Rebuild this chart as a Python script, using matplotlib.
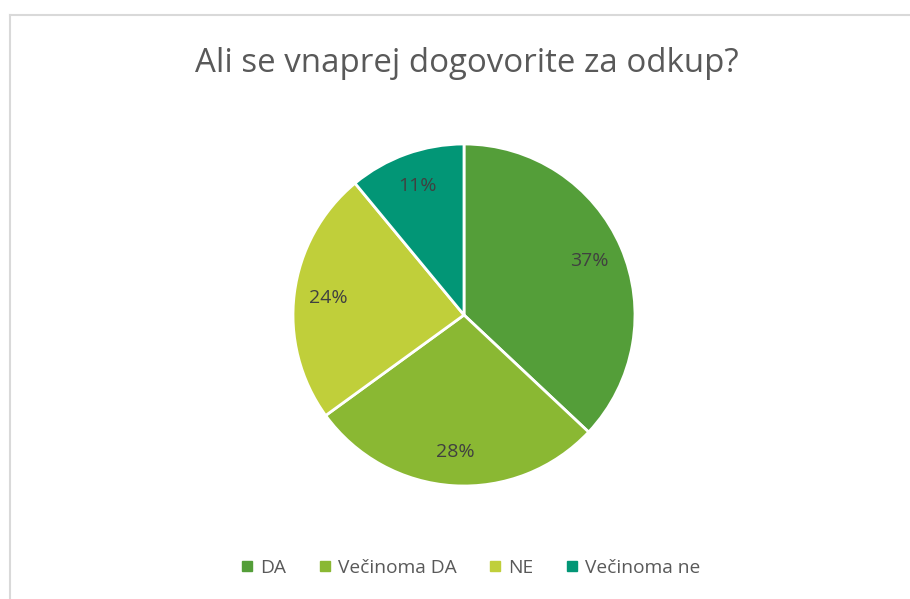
import matplotlib
matplotlib.use("Agg")
import matplotlib.pyplot as plt
from matplotlib.lines import Line2D

labels = ["DA", "Večinoma DA", "NE", "Večinoma ne"]
values = [37, 28, 24, 11]
colors = ["#549E39", "#8AB833", "#C0CF3A", "#029676"]
title = "Ali se vnaprej dogovorite za odkup?"

W, H = 910, 599
fig = plt.figure(figsize=(W/100, H/100), dpi=100)
plt.rcParams['font.family'] = ['Open Sans', 'DejaVu Sans']

# frame lines (left and top only visible)
fig.add_artist(Line2D([10/W, 10/W], [0, 1-15/H], color="#D9D9D9", lw=1.5))
fig.add_artist(Line2D([10/W, 1], [1-15/H, 1-15/H], color="#D9D9D9", lw=1.5))

cx, cy, r = 464, 315, 171
ax = fig.add_axes([(cx-r)/W, (H-cy-r)/H, 2*r/W, 2*r/H])
wedges, texts, autotexts = ax.pie(values, colors=colors, startangle=90, counterclock=False,
                                  autopct=lambda p: "%d%%" % round(p), pctdistance=0.8,
                                  wedgeprops=dict(edgecolor="white", linewidth=2),
                                  textprops=dict(color="#404040", fontsize=14))
ax.set_xlim(-1, 1)
ax.set_ylim(-1, 1)
ax.set_aspect("equal")
ax.axis("off")

fig.text(467/W, 1-63/H, title, ha="center", va="center", fontsize=23.8, color="#595959")

handles = [Line2D([], [], marker="s", linestyle="none", markersize=7, color=c) for c in colors]
fig.legend(handles, labels, loc="center", bbox_to_anchor=(470/W, 1-568/H), ncol=4,
           frameon=False, fontsize=13.8, labelcolor="#595959", handletextpad=0.3,
           columnspacing=1.6, handlelength=0.8)

fig.savefig("out.png", dpi=100, facecolor="white")
